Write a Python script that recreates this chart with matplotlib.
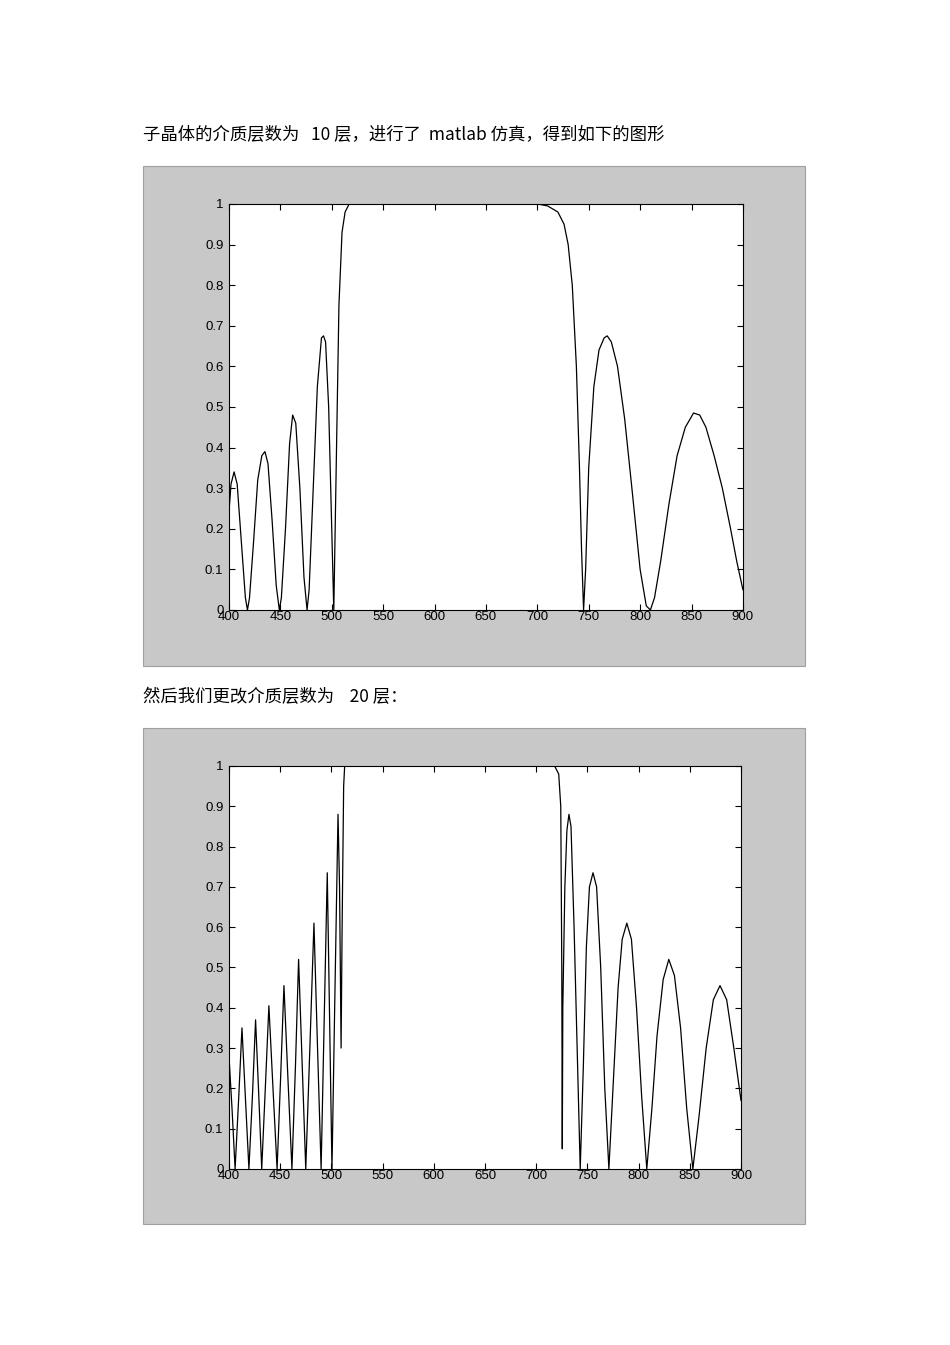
import numpy as np
import matplotlib
matplotlib.use("Agg")
from matplotlib import pyplot as plt
from matplotlib.patches import Rectangle

plt.rcParams['font.family'] = ['Noto Sans CJK SC', 'DejaVu Sans']

# 10 layers
x1 = [400, 402, 405, 408, 412, 416, 418, 420, 424, 428, 432, 435, 438, 442, 446, 449,
      451, 455, 459, 462, 465, 469, 473, 476, 478, 482, 486, 490, 492, 494, 497, 500,
      502, 504, 507, 510, 513, 517, 520, 525, 700, 710, 720, 726, 730, 734, 738, 741,
      743, 745, 747, 750, 755, 760, 765, 768, 772, 778, 785, 792, 800, 806, 810, 814,
      820, 828, 836, 844, 852, 858, 864, 872, 880, 888, 894, 900]
y1 = [0.24, 0.31, 0.34, 0.31, 0.17, 0.03, 0.0, 0.03, 0.17, 0.32, 0.38, 0.39, 0.36, 0.22, 0.06, 0.0,
      0.03, 0.2, 0.41, 0.48, 0.46, 0.3, 0.08, 0.0, 0.05, 0.3, 0.55, 0.67, 0.675, 0.66, 0.5, 0.2,
      0.0, 0.3, 0.75, 0.93, 0.98, 1.0, 1.0, 1.0, 1.0, 0.995, 0.98, 0.95, 0.9, 0.8, 0.6, 0.35,
      0.15, 0.0, 0.1, 0.35, 0.55, 0.64, 0.67, 0.675, 0.66, 0.6, 0.47, 0.3, 0.1, 0.01, 0.0, 0.03,
      0.12, 0.26, 0.38, 0.45, 0.485, 0.48, 0.45, 0.38, 0.3, 0.2, 0.12, 0.05]

# 20 layers
x2 = [400, 403, 406, 409.5, 412.7, 416, 419.5, 423, 426, 429, 432, 435.5, 439, 443, 447,
      450.5, 453.7, 457.5, 461.5, 465, 468, 471.5, 475, 479, 483, 486.5, 490, 493, 496,
      498.3, 500.6, 503.5, 506.5, 508, 509.5, 510.5, 512, 513, 520, 700, 718, 722, 724,
      725, 725.5, 726, 728, 730, 732, 734, 737, 740, 743, 746, 749, 752, 755.5, 759, 763,
      767, 771, 775, 780, 784, 788.5, 793, 798, 803, 808, 813, 818, 824, 829.5, 835, 841,
      847, 853, 859, 866, 873, 879.5, 886, 893, 900]
y2 = [0.28, 0.15, 0.0, 0.175, 0.35, 0.18, 0.0, 0.185, 0.37, 0.19, 0.0, 0.2, 0.405, 0.2, 0.0,
      0.23, 0.455, 0.23, 0.0, 0.26, 0.52, 0.26, 0.0, 0.3, 0.61, 0.3, 0.0, 0.37, 0.735,
      0.37, 0.0, 0.44, 0.88, 0.7, 0.3, 0.6, 0.95, 1.0, 1.0, 1.0, 1.0, 0.98, 0.9,
      0.5, 0.05, 0.4, 0.7, 0.84, 0.88, 0.85, 0.6, 0.3, 0.0, 0.25, 0.55, 0.7, 0.735, 0.7, 0.5,
      0.2, 0.0, 0.2, 0.45, 0.57, 0.61, 0.57, 0.4, 0.18, 0.0, 0.15, 0.33, 0.47, 0.52, 0.48, 0.35,
      0.15, 0.0, 0.13, 0.3, 0.42, 0.455, 0.42, 0.3, 0.17]

text1 = "子晶体的介质层数为   10 层，进行了  matlab 仿真，得到如下的图形"
text2 = "然后我们更改介质层数为    20 层："

fig = plt.figure(figsize=(9.5, 13.45), dpi=100)
fig.patch.set_facecolor("white")

fig.text(0.1505, 1 - 135 / 1345, text1, fontsize=12.5, va="center", ha="left")
fig.text(0.1505, 1 - 697 / 1345, text2, fontsize=12.5, va="center", ha="left")

panels = [(0.5048, 0.3717), (0.09, 0.3688)]
for b, h in panels:
    fig.patches.append(Rectangle((0.1505, b), 0.697, h, transform=fig.transFigure,
                                 facecolor="#c8c8c8", edgecolor="#a0a0a0", lw=0.8, zorder=-10))

axes = [fig.add_axes([0.241, 0.5465, 0.541, 0.3019]),
        fig.add_axes([0.241, 0.1309, 0.539, 0.2996])]
for ax, x, y in zip(axes, [x1, x2], [y1, y2]):
    ax.set_zorder(5)
    ax.plot(x, y, color="black", lw=0.9)
    ax.set_xlim(400, 900)
    ax.set_ylim(0, 1)
    ax.set_xticks(np.arange(400, 901, 50))
    ax.set_yticks(np.arange(0, 1.01, 0.1))
    ax.set_yticklabels(["0", "0.1", "0.2", "0.3", "0.4", "0.5", "0.6", "0.7", "0.8", "0.9", "1"])
    ax.tick_params(direction="in", top=True, right=True, labelsize=9.5, length=4)
    ax.tick_params(axis="x", pad=1)
    ax.tick_params(axis="y", pad=4)
    for lab in ax.get_xticklabels() + ax.get_yticklabels():
        lab.set_family("Liberation Sans")
    for s in ax.spines.values():
        s.set_linewidth(0.8)

fig.savefig("out.png", dpi=100)
